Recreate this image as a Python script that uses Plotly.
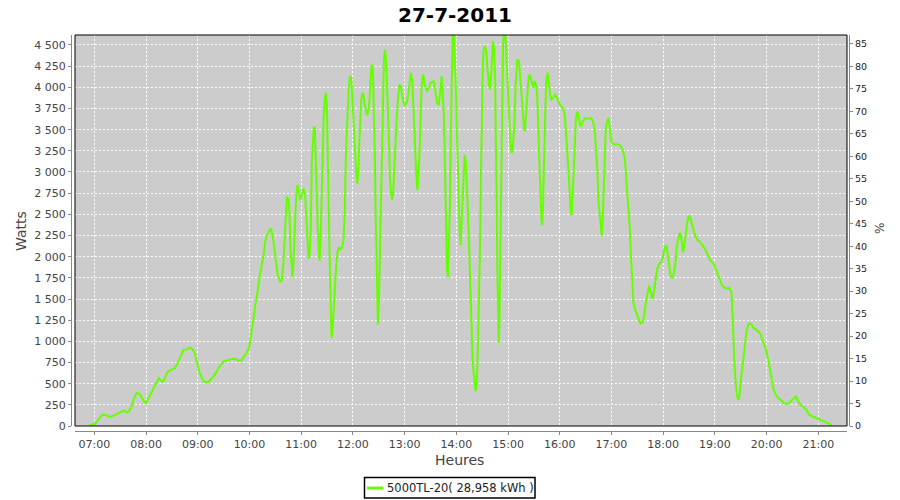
import pandas as pd
import plotly.graph_objects as go

# ---------------- data ----------------
chart_title = "27-7-2011"
series_name = "5000TL-20( 28,958 kWh )"
day = "2011-07-27"

# time of day in minutes after midnight
minutes = [
    414.2, 420.8, 424.6, 428.5, 432.4, 436.3, 440.1, 444.0, 447.9, 451.7, 454.4, 457.5, 460.2,
    463.3, 466.1, 469.1, 472.2, 475.0, 477.7, 480.0, 483.9, 487.7, 491.6, 494.7, 497.0, 500.1,
    503.2, 505.9, 509.8, 513.7, 516.8, 520.2, 523.3, 527.2, 531.0, 534.2, 536.9, 539.6, 541.9,
    544.6, 547.3, 551.2, 555.1, 559.0, 562.8, 566.7, 570.5, 575.6, 580.6, 585.2, 589.1, 593.0,
    596.8, 600.0, 602.7, 604.6, 606.6, 608.5,
    609.3, 611.6, 614.3, 616.3, 618.2, 620.1, 623.2, 625.2, 627.9, 630.2, 632.5, 635.6, 637.5,
    639.5, 640.6, 642.2, 643.3, 645.3, 646.4, 647.6, 648.8, 649.9, 651.1, 652.6, 654.2, 655.7,
    657.3, 658.8, 660.8, 662.7, 664.6, 666.6, 668.5, 669.7, 671.2, 672.4, 673.5, 674.7, 675.9,
    677.0, 678.2, 679.3, 680.5, 681.3, 682.4, 683.6, 685.1, 686.3, 687.5, 688.6, 689.8, 690.6,
    691.7, 692.9, 694.0, 695.2, 696.4, 697.5, 699.1, 700.6, 702.2, 703.7, 705.3, 707.2, 709.1,
    710.7, 711.8, 713.0, 714.2, 715.3, 716.9, 718.0, 719.2, 720.4, 721.5, 722.7, 723.8, 725.0,
    726.2, 727.3, 728.5, 729.6, 731.2, 732.4, 733.9, 735.1, 736.6, 737.8, 739.3, 740.5, 742.0,
    743.2, 744.4, 745.5, 746.3, 747.4, 748.2, 749.0, 750.2, 751.3, 752.5, 753.6, 754.8, 756.0,
    757.1, 758.3, 759.4, 760.6, 761.8, 762.9, 764.1, 765.6, 766.8, 768.0, 769.5, 771.1, 772.6,
    774.2, 775.7, 777.2, 778.8, 780.7, 782.7, 784.2, 785.8, 787.3, 788.9, 790.4, 791.6, 792.7,
    793.9, 795.0, 796.2, 797.4, 798.5, 799.7, 801.2, 802.4, 803.9, 805.9, 808.2, 810.0,
    813.8, 815.8, 817.7, 819.6, 821.5, 823.1, 824.2, 825.4, 826.5, 827.7, 828.5, 829.2, 830.4,
    831.5, 832.7, 833.8, 835.0, 835.8, 836.9, 838.1, 839.2, 840.4, 841.5, 842.7, 843.8, 845.0,
    846.2, 847.3, 848.5, 849.6, 850.8, 851.9, 853.1, 854.2, 855.4, 856.5, 857.7, 858.8, 860.0,
    861.2, 862.7, 863.8, 865.0, 866.2, 867.3, 868.1, 868.8, 869.6, 870.4, 871.5, 873.1, 874.6,
    876.2, 877.7, 879.2, 880.8, 882.3, 883.8, 885.0, 886.2, 886.9, 887.7, 888.5, 889.2, 890.0,
    890.8, 891.9, 893.1, 894.2, 895.4, 896.5, 897.7, 898.8, 900.0, 901.2, 902.7, 904.2, 905.8,
    907.3, 908.8, 910.8, 912.7, 914.2, 915.8, 917.3, 918.5, 919.6, 920.8, 922.3, 923.8, 925.4,
    927.3, 929.2, 930.8, 932.3, 933.8, 935.0, 936.2, 937.3, 938.5, 939.6, 940.8, 941.9, 943.1,
    944.2, 945.8, 947.3, 948.8, 950.4, 952.3, 954.6, 956.9, 959.2, 961.9, 963.8, 965.8, 966.9,
    968.5, 970.0, 971.5, 972.7, 973.8, 975.0, 976.2, 977.3, 978.8, 980.4, 981.9, 983.5, 985.0,
    986.9, 989.2, 991.9, 994.6, 996.9, 998.5, 1000.4, 1002.3, 1003.8, 1005.0, 1006.2,
    1007.6, 1008.8, 1009.9, 1011.1, 1012.3, 1013.4, 1015.0, 1016.5, 1018.1, 1020.0, 1021.9,
    1025.0, 1028.1, 1031.2, 1033.5, 1035.5, 1037.4, 1039.4, 1041.3, 1042.6, 1044.0, 1045.5,
    1047.9, 1051.0, 1053.7, 1056.0, 1057.9, 1059.9, 1061.8, 1063.7, 1065.7, 1067.6, 1069.1,
    1071.1, 1073.0, 1075.3, 1078.0, 1080.0, 1081.9, 1083.9, 1085.0, 1086.6, 1088.6, 1090.5,
    1092.4, 1094.4, 1095.9, 1097.4, 1099.4, 1101.3, 1102.9, 1104.4, 1106.4, 1107.9, 1109.9,
    1111.8, 1113.7, 1115.6, 1117.6, 1120.6, 1124.5, 1128.4, 1132.3, 1134.9, 1138.8, 1141.9,
    1145.0, 1147.7, 1150.4, 1153.5, 1156.6, 1159.3, 1160.5, 1161.6, 1162.8, 1164.4, 1165.9,
    1167.5, 1169.0, 1170.6, 1172.1, 1173.6, 1175.2, 1176.7, 1178.7, 1180.6, 1182.6, 1184.5,
    1187.6, 1190.3, 1193.0, 1196.1, 1199.2, 1201.9, 1204.6, 1207.7, 1210.8, 1213.5, 1216.6,
    1220.1, 1224.0, 1227.8, 1231.7, 1234.0, 1236.7, 1239.4, 1243.3, 1246.4, 1249.5, 1253.4,
    1258.0, 1262.7, 1267.7, 1271.6, 1275.4,
]

watts = [
    12, 24, 71, 127, 135, 111, 111, 131, 151, 171, 183, 159, 171,
    230, 329, 389, 381, 337, 290, 270, 349, 429, 516, 567, 540, 524,
    607, 647, 667, 686, 746, 825, 897, 905, 925, 905, 845, 726, 635,
    567, 524, 516, 548, 595, 659, 726, 766, 778, 794, 786, 766, 806,
    865, 944, 1103, 1262, 1421, 1520,
    1577, 1755, 1894, 2013, 2171, 2250, 2310, 2330, 2171, 2013, 1795, 1704, 1715,
    1933, 2210, 2429, 2706, 2686, 2528, 2092, 1854, 1755, 1933, 2369, 2726, 2845,
    2786, 2667, 2746, 2805, 2726, 2250, 1973, 2013, 2330, 3122, 3439, 3538, 3518,
    3043, 2607, 2290, 2092, 1953, 2171, 2726, 3201, 3716, 3854, 3934, 3796, 3201,
    2647, 2013, 1537, 1042, 1121, 1300, 1696, 1894, 2052, 2112, 2092, 2100, 2191,
    2567, 3201, 3518, 3776, 4013, 4132, 4113, 3914, 3677, 3400, 3122, 2984, 2865,
    3003, 3320, 3637, 3854, 3934, 3914, 3776, 3716, 3669, 3716, 3854, 4113, 4271,
    4212, 3796, 3201, 2567, 1933, 1458, 1200, 1458, 2013, 2686, 3360, 3914, 4330,
    4449, 4350, 4073, 3796, 3400, 2964, 2766, 2667, 2766, 3043, 3400, 3677, 3914,
    4033, 4013, 3914, 3815, 3788, 3827, 3914, 4093, 4172, 4073, 3716, 3400, 3043,
    2885, 2786, 3003, 3241, 3598, 4013, 4152, 4113, 4013, 3954, 3993, 4053,
    4073, 3914, 3815, 3788, 4013, 4132, 3914, 3716, 3241, 2726, 2250, 1854, 1755,
    2092, 2647, 3518, 4469, 4700, 4700, 4469, 4113, 3558, 3043, 2647, 2330, 2131,
    2409, 2805, 3043, 3201, 3142, 2964, 2647, 2330, 2013, 1656, 1181, 784, 586,
    507, 408, 547, 903, 1379, 2013, 2647, 3201, 3716, 4113, 4429, 4489, 4429,
    4231, 4033, 3974, 4192, 4548, 4469, 4113, 3320, 2528, 1735, 1220, 983, 1220,
    1933, 2924, 3914, 4469, 4700, 4700, 4469, 4231, 3914, 3598, 3360, 3221, 3320,
    3558, 4033, 4330, 4310, 4113, 3875, 3637, 3518, 3479, 3637, 3914, 4113, 4152,
    4053, 3994, 4073, 4033, 3914, 3558, 3122, 2686, 2488, 2369, 2647, 3201, 3716,
    4073, 4172, 4073, 3914, 3855, 3874, 3914, 3875, 3815, 3776, 3756, 3677, 3518,
    3360, 3043, 2766, 2528, 2488, 2686, 3003, 3281, 3637, 3716, 3657, 3558, 3538,
    3598, 3637, 3630, 3637, 3630, 3598, 3518, 3241, 3003, 2647, 2488,
    2330, 2243, 2449, 2845, 3201, 3518, 3598, 3637, 3518, 3360, 3328,
    3328, 3328, 3300, 3241, 3162, 2924, 2647, 2330, 2013, 1656, 1458,
    1359, 1280, 1212, 1220, 1300, 1458, 1577, 1656, 1577, 1498, 1577,
    1735, 1854, 1914, 1934, 2013, 2112, 2131, 2052, 1934, 1775, 1755,
    1795, 1934, 2131, 2211, 2282, 2211, 2052, 2112, 2270, 2409, 2488,
    2449, 2369, 2310, 2231, 2191, 2151, 2092, 2013, 1953, 1914, 1834,
    1755, 1676, 1636, 1624, 1636, 1577, 1339, 1022, 705, 467, 349,
    309, 388, 586, 745, 864, 983, 1121, 1200, 1212, 1200, 1161,
    1141, 1121, 1082, 1002, 903, 784, 626, 448, 369, 329, 309,
    269, 261, 289, 329, 349, 289, 250, 222, 190, 131, 111,
    91, 71, 52, 32, 12,
]

watt_ticks = [0, 250, 500, 750, 1000, 1250, 1500, 1750, 2000, 2250, 2500,
              2750, 3000, 3250, 3500, 3750, 4000, 4250, 4500]
watt_tick_text = ["0", "250", "500", "750", "1 000", "1 250", "1 500", "1 750",
                  "2 000", "2 250", "2 500", "2 750", "3 000", "3 250", "3 500",
                  "3 750", "4 000", "4 250", "4 500"]
pct_ticks = [0, 5, 10, 15, 20, 25, 30, 35, 40, 45, 50, 55, 60, 65, 70, 75, 80, 85]
hour_ticks = ["07:00", "08:00", "09:00", "10:00", "11:00", "12:00", "13:00", "14:00",
              "15:00", "16:00", "17:00", "18:00", "19:00", "20:00", "21:00"]

# ---------------- layout helpers (pixel -> paper) ----------------
W, H = 900, 500
def fx(p):
    return p / W
def fy(p):
    return 1 - p / H

PL, PR, PT, PB = 75, 847, 35, 426   # plot area in pixels
FONT = "DejaVu Sans"
GREEN = "#66FF00"
AXIS_GRAY = "#888888"
TXT = "#444444"

base = pd.Timestamp(day)
times = base + pd.to_timedelta(minutes, unit="m")
tick_times = [pd.Timestamp(f"{day} {h}") for h in hour_ticks]

fig = go.Figure()
fig.add_trace(go.Scatter(x=times, y=watts, mode="lines", name=series_name,
                         line=dict(color=GREEN, width=2), showlegend=False))
# carrier trace so that the percentage axis is drawn
fig.add_trace(go.Scatter(x=[times[0]], y=[None], yaxis="y2", mode="lines",
                         showlegend=False, hoverinfo="skip"))

grid = dict(showgrid=True, gridcolor="white", gridwidth=1, griddash="2px,2px",
            zeroline=False, automargin=False)

fig.update_layout(
    width=W, height=H,
    autosize=False,
    margin=dict(l=0, r=0, t=0, b=0, pad=0, autoexpand=False),
    paper_bgcolor="white",
    plot_bgcolor="#CCCCCC",
    font=dict(family=FONT, color=TXT),
    showlegend=False,
    xaxis=dict(
        type="date",
        domain=[fx(PL), fx(PR)],
        range=[base + pd.Timedelta(hours=6, minutes=37, seconds=34),
               base + pd.Timedelta(hours=21, minutes=33, seconds=18)],
        anchor="free", position=fy(430.5),
        tickvals=tick_times, ticktext=hour_ticks,
        showline=True, linecolor=AXIS_GRAY, linewidth=1,
        ticks="outside", ticklen=3, tickcolor=AXIS_GRAY,
        tickfont=dict(size=11, color=TXT, family=FONT),
        **grid,
    ),
    yaxis=dict(
        domain=[fy(PB), fy(PT)],
        range=[0, 4618],
        anchor="free", position=fx(71),
        tickvals=watt_ticks, ticktext=watt_tick_text,
        showline=True, linecolor=AXIS_GRAY, linewidth=1,
        ticks="outside", ticklen=3, tickcolor=AXIS_GRAY,
        tickfont=dict(size=11, color=TXT, family=FONT),
        **grid,
    ),
    yaxis2=dict(
        overlaying="y", side="right",
        range=[0, 87],
        anchor="free", position=fx(849),
        tickvals=pct_ticks,
        showline=True, linecolor=AXIS_GRAY, linewidth=1,
        ticks="outside", ticklen=3, tickcolor=AXIS_GRAY,
        tickfont=dict(size=9.5, color="#222222", family=FONT),
        showgrid=False, zeroline=False, automargin=False,
    ),
    shapes=[
        # plot border
        dict(type="rect", xref="paper", yref="paper",
             x0=fx(PL), x1=fx(PR), y0=fy(PB), y1=fy(PT),
             line=dict(color="black", width=1), layer="above"),
        # legend box
        dict(type="rect", xref="paper", yref="paper",
             x0=fx(364.5), x1=fx(535), y0=fy(498), y1=fy(477.5),
             line=dict(color="black", width=1.5), fillcolor="white"),
        # legend sample line
        dict(type="line", xref="paper", yref="paper",
             x0=fx(367), x1=fx(383), y0=fy(488), y1=fy(488),
             line=dict(color=GREEN, width=3)),
    ],
    annotations=[
        dict(text=f"<b>{chart_title}</b>", xref="paper", yref="paper",
             x=fx(455), y=fy(15), xanchor="center", yanchor="middle",
             showarrow=False, font=dict(size=20, color="black", family=FONT)),
        dict(text="Watts", xref="paper", yref="paper",
             x=fx(21), y=fy(231), xanchor="center", yanchor="middle",
             textangle=-90, showarrow=False, font=dict(size=14, color=TXT, family=FONT)),
        dict(text="%", xref="paper", yref="paper",
             x=fx(880), y=fy(229), xanchor="center", yanchor="middle",
             textangle=-90, showarrow=False, font=dict(size=12, color=TXT, family=FONT)),
        dict(text="Heures", xref="paper", yref="paper",
             x=fx(460), y=fy(460), xanchor="center", yanchor="middle",
             showarrow=False, font=dict(size=14, color=TXT, family=FONT)),
        dict(text=series_name, xref="paper", yref="paper",
             x=fx(385), y=fy(488), xanchor="left", yanchor="middle",
             showarrow=False, font=dict(size=11.5, color="#222222", family=FONT)),
    ],
)

fig.write_html(
    "out.html",
    config={"displayModeBar": False},
    post_script="document.body.style.margin='0';document.body.style.padding='0';",
)
